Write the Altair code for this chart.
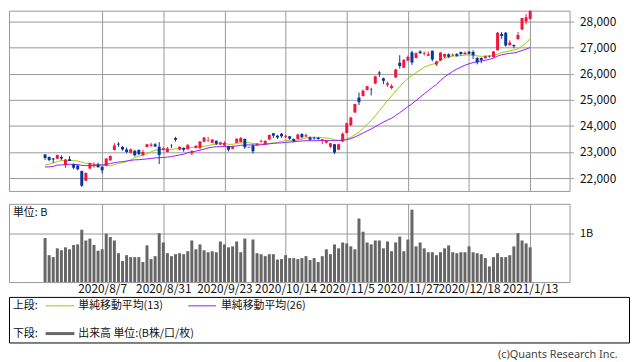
import altair as alt
import pandas as pd
import numpy as np

# ---------------- data ----------------
dates = (
    ["2020/7/%d" % d for d in [16, 17, 20, 21, 22, 27, 28, 29, 30, 31]]
    + ["2020/8/%d" % d for d in [3, 4, 5, 6, 7, 11, 12, 13, 14, 17, 18, 19, 20, 21, 24, 25, 26, 27, 28, 31]]
    + ["2020/9/%d" % d for d in [1, 2, 3, 4, 7, 8, 9, 10, 11, 14, 15, 16, 17, 18, 23, 24, 25, 28, 29, 30]]
    + ["2020/10/%d" % d for d in [1, 2, 5, 6, 7, 8, 9, 12, 13, 14, 15, 16, 19, 20, 21, 22, 23, 26, 27, 28, 29, 30]]
    + ["2020/11/%d" % d for d in [2, 4, 5, 6, 9, 10, 11, 12, 13, 16, 17, 18, 19, 20, 24, 25, 26, 27, 30]]
    + ["2020/12/%d" % d for d in [1, 2, 3, 4, 7, 8, 9, 10, 11, 14, 15, 16, 17, 18, 21, 22, 23, 24, 25, 28, 29, 30]]
    + ["2021/1/%d" % d for d in [4, 5, 6, 7, 8, 12, 13]]
)

opens = [22900, 22810, 22750, 22740, 22810, 22500, 22720, 22530, 22480, 22270,
         21900, 22370, 22450, 22520, 22430, 22470, 22680, 23080, 23320, 23190,
         23100, 22970, 23050, 23080, 22880, 23190, 23240, 23300, 23200, 23090,
         23000, 23260, 23540, 23100, 23150, 23110, 22950, 23160, 23150, 23390,
         23440, 23350, 23430, 23290, 23250, 23220, 23120, 23350, 23380, 23500,
         23185, 23250, 23260, 23400, 23300, 23480, 23720, 23620, 23700, 23580,
         23600, 23500, 23500, 23690, 23590, 23560, 23540, 23550, 23430, 23350,
         23200, 23300, 23090, 23400, 23730, 24030, 24510, 25090, 25150, 25380,
         25400, 25630, 26050, 25830, 25580, 25450, 25870, 26420, 26230, 26510,
         26820, 26600, 26850, 26780, 26690, 26880, 26350, 26510, 26650, 26750,
         26700, 26760, 26830, 26750, 26840, 26830, 26600, 26600, 26590, 26670,
         26640, 26900, 27520, 27575, 27100, 27100, 27330, 27700, 28000, 28100]
highs = [22920, 22830, 22770, 22900, 22875, 22730, 22840, 22560, 22500, 22290,
         22220, 22590, 22600, 22590, 22450, 22760, 22870, 23340, 23380, 23230,
         23170, 23130, 23070, 23100, 23090, 23310, 23350, 23340, 23380, 23180,
         23190, 23300, 23580, 23210, 23180, 23290, 23070, 23260, 23420, 23580,
         23580, 23490, 23440, 23400, 23410, 23240, 23240, 23520, 23580, 23520,
         23185, 23300, 23340, 23470, 23450, 23670, 23730, 23660, 23730, 23660,
         23620, 23520, 23700, 23720, 23700, 23600, 23590, 23570, 23500, 23450,
         23350, 23310, 23320, 23750, 24120, 24350, 24850, 25280, 25400, 25530,
         25460, 25920, 26100, 25850, 25700, 25600, 26190, 26710, 26560, 26700,
         26880, 26820, 26900, 26850, 26850, 26890, 26500, 26830, 26770, 26780,
         26780, 26790, 26850, 26850, 26880, 26900, 26640, 26620, 26700, 26700,
         26870, 27600, 27600, 27600, 27280, 27120, 27600, 28140, 28290, 28520]
lows = [22700, 22640, 22580, 22730, 22690, 22390, 22650, 22340, 22300, 21660,
        21890, 22340, 22400, 22400, 22180, 22460, 22660, 23060, 23200, 23050,
        22950, 22950, 22830, 22880, 22870, 23180, 23200, 23190, 22540, 23050,
        22990, 23150, 23400, 23060, 23010, 23090, 22880, 23140, 23100, 23380,
        23390, 23340, 23270, 23270, 23230, 23020, 23100, 23340, 23370, 23120,
        23185, 22940, 23250, 23360, 23280, 23470, 23540, 23500, 23540, 23540,
        23470, 23380, 23490, 23530, 23570, 23440, 23470, 23460, 23300, 23320,
        23150, 22920, 23080, 23380, 23720, 24000, 24500, 24800, 25120, 25360,
        25170, 25600, 25880, 25600, 25500, 25400, 25840, 26200, 26220, 26480,
        26340, 26590, 26750, 26700, 26680, 26480, 26300, 26500, 26600, 26600,
        26680, 26650, 26700, 26740, 26740, 26560, 26360, 26400, 26580, 26620,
        26620, 26890, 27340, 27040, 27070, 26980, 27300, 27670, 27890, 28090]
closes = [22770, 22696, 22717, 22884, 22751, 22715, 22657, 22397, 22339, 21710,
          22195, 22573, 22514, 22418, 22300, 22750, 22843, 23249, 23289, 23096,
          23000, 23110, 22880, 22920, 23000, 23296, 23290, 23208, 22882, 23139,
          23138, 23247, 23465, 23205, 23089, 23274, 23032, 23235, 23406, 23559,
          23454, 23475, 23319, 23360, 23346, 23087, 23204, 23511, 23539, 23185,
          23185, 23029, 23312, 23433, 23422, 23647, 23619, 23558, 23601, 23626,
          23507, 23410, 23671, 23567, 23639, 23474, 23516, 23494, 23485, 23418,
          23331, 22977, 23295, 23695, 24105, 24325, 24839, 24905, 25349, 25520,
          25385, 25906, 26014, 25728, 25634, 25527, 26165, 26296, 26537, 26644,
          26433, 26787, 26800, 26809, 26751, 26547, 26467, 26817, 26756, 26652,
          26732, 26687, 26757, 26806, 26763, 26714, 26436, 26524, 26668, 26656,
          26854, 27568, 27444, 27080, 27200, 27055, 27490, 28139, 28164, 28456]
# closes before the first candle (needed for the moving averages)
prior_closes = [22472, 22305, 21530, 22582, 22455, 22355, 22478, 22437, 22549, 22534,
                22259, 22512, 21995, 22288, 22121, 22145, 22306, 22714, 22614, 22438,
                22529, 22291, 22784, 22587, 22945]
volumes = [0.90, 0.55, 0.51, 0.69, 0.65, 0.71, 0.67, 0.76, 0.77, 1.07,
           0.85, 0.89, 0.76, 0.64, 0.67, 0.99, 0.92, 0.85, 0.59, 0.43,
           0.55, 0.51, 0.51, 0.51, 0.41, 0.75, 0.47, 0.53, 1.00, 0.81,
           0.59, 0.53, 0.57, 0.59, 0.57, 0.63, 0.85, 0.67, 0.77, 0.65,
           0.61, 0.63, 0.61, 0.83, 0.77, 0.71, 0.73, 0.83, 0.61, 0.89,
           0.00, 0.87, 0.59, 0.57, 0.53, 0.57, 0.57, 0.46, 0.47, 0.55,
           0.49, 0.49, 0.47, 0.49, 0.53, 0.45, 0.49, 0.41, 0.53, 0.67,
           0.57, 0.77, 0.69, 0.81, 0.79, 0.73, 0.67, 1.30, 1.03, 0.81,
           0.77, 0.85, 0.85, 0.69, 0.83, 0.63, 0.81, 0.93, 0.63, 0.87,
           1.48, 0.73, 0.81, 0.69, 0.61, 0.61, 0.55, 0.61, 0.69, 0.75,
           0.61, 0.59, 0.61, 0.61, 0.73, 0.61, 0.59, 0.57, 0.49, 0.32,
           0.51, 0.59, 0.51, 0.51, 0.55, 0.73, 1.00, 0.85, 0.79, 0.71]

tick_idx = [14, 29, 44, 59, 74, 89, 104, 119]
tick_labels = ["2020/8/7", "2020/8/31", "2020/9/23", "2020/10/14",
               "2020/11/5", "2020/11/27", "2020/12/18", "2021/1/13"]
price_ticks = [22000, 23000, 24000, 25000, 26000, 27000, 28000]
ma_names = ["単純移動平均(13)", "単純移動平均(26)"]

# ---------------- styles ----------------
RED = "#f5143f"
BLUE = "#08359a"
GREEN = "#99cc00"
PURPLE = "#9a1aff"
GRID = "#999999"
FONT = "Noto Sans CJK JP"

n = len(closes)
df = pd.DataFrame({"i": list(range(n)), "date": dates, "open": opens, "high": highs,
                   "low": lows, "close": closes, "vol": volumes})
df["dir"] = np.where(df["close"] > df["open"], "up", "down")
allc = pd.Series(prior_closes + closes, dtype=float)
df["ma13"] = allc.rolling(13).mean().iloc[len(prior_closes):].values
df["ma26"] = allc.rolling(26).mean().iloc[len(prior_closes):].values
ma_long = pd.concat([
    pd.DataFrame({"i": df["i"], "value": df["ma13"], "series": ma_names[0]}),
    pd.DataFrame({"i": df["i"], "value": df["ma26"], "series": ma_names[1]}),
])

xscale = alt.Scale(domain=[-7.637, 127.45], nice=False, zero=False)
yscale = alt.Scale(domain=[21507, 28418], nice=False, zero=False)
label_expr = "[" + ",".join("'%s'" % t for t in tick_labels) + "][round((datum.value-14)/15)]"

x_axis = alt.Axis(values=tick_idx, labels=False, ticks=False, domain=False,
                  grid=True, gridColor=GRID, gridWidth=1)
y_axis = alt.Axis(orient="right", values=price_ticks,
                  labelExpr="floor(datum.value/1000) + ',000'", grid=True,
                  gridColor=GRID, tickColor=GRID, tickSize=4, domain=False,
                  labelFontSize=12, labelPadding=6, labelColor="#111", labelFont=FONT)
color = alt.Color("dir:N", scale=alt.Scale(domain=["up", "down"], range=[RED, BLUE]), legend=None)

base = alt.Chart(df)
ma_lines = alt.Chart(ma_long).mark_line(strokeWidth=1, clip=True).encode(
    x=alt.X("i:Q", scale=xscale, axis=x_axis, title=None),
    y=alt.Y("value:Q", scale=yscale, axis=y_axis, title=None),
    stroke=alt.Stroke("series:N", scale=alt.Scale(domain=ma_names, range=[GREEN, PURPLE]), legend=None))
wicks = base.mark_rule(strokeWidth=1, clip=True).encode(
    x=alt.X("i:Q", scale=xscale, axis=x_axis, title=None),
    y=alt.Y("low:Q", scale=yscale, axis=y_axis, title=None), y2="high:Q", color=color)
bodies = base.mark_bar(width=3, clip=True).encode(
    x=alt.X("i:Q", scale=xscale, axis=x_axis, title=None),
    y=alt.Y("open:Q", scale=yscale, axis=y_axis, title=None), y2="close:Q", color=color)
doji = base.transform_filter("datum.open == datum.close").mark_tick(
    orient="horizontal", size=3, thickness=1, clip=True).encode(
    x=alt.X("i:Q", scale=xscale, axis=x_axis, title=None),
    y=alt.Y("close:Q", scale=yscale, axis=y_axis, title=None), color=color)

price = alt.layer(ma_lines, wicks, bodies, doji).properties(
    width=566, height=182, view=alt.ViewBackground(stroke=GRID, strokeWidth=1))

vol_bars = alt.Chart(df).mark_bar(width=3, color="#666666").encode(
    x=alt.X("i:Q", scale=xscale, title=None,
            axis=alt.Axis(values=tick_idx, labelExpr=label_expr, ticks=False, domain=False,
                          grid=True, gridColor=GRID, labelFontSize=12, labelPadding=2,
                          labelOverlap=False, labelBound=False, labelFlush=False,
                          labelColor="#111", labelFont=FONT)),
    y=alt.Y("vol:Q", scale=alt.Scale(domain=[0, 1.6], nice=False), title=None,
            axis=alt.Axis(orient="right", values=[1], labelExpr="'1B'", grid=True,
                          gridColor=GRID, tickColor=GRID, tickSize=4, domain=False,
                          labelFontSize=11, labelPadding=6, labelColor="#111", labelFont=FONT)))
unit_text = alt.Chart(pd.DataFrame({"t": ["単位: B"]})).mark_text(
    align="left", baseline="middle", fontSize=11, font=FONT, color="#111").encode(
    x=alt.value(4), y=alt.value(9), text="t:N")
volume = alt.layer(vol_bars, unit_text).properties(
    width=566, height=79, view=alt.ViewBackground(stroke=GRID, strokeWidth=1))

# ---------------- legend box ----------------
def txt(label, x, y):
    return alt.Chart(pd.DataFrame({"t": [label]})).mark_text(
        align="left", baseline="middle", fontSize=11, font=FONT, color="#111").encode(
        x=alt.value(x), y=alt.value(y), text="t:N")

def seg(x1, x2, y, col, w):
    return alt.Chart(pd.DataFrame({"k": [0]})).mark_rule(color=col, strokeWidth=w).encode(
        x=alt.value(x1), x2=alt.value(x2), y=alt.value(y))

legend = alt.layer(
    txt("上段:", 4, 9), seg(37, 66, 9, GREEN, 1), txt(ma_names[0], 70, 9),
    seg(181, 209, 9, PURPLE, 1), txt(ma_names[1], 214, 9),
    txt("下段:", 4, 37), seg(37, 66, 37, "#666666", 3), txt("出来高 単位:(B株/口/枚)", 70, 37),
).properties(width=626, height=46, view=alt.ViewBackground(stroke="#000000", strokeWidth=1))

upper = alt.vconcat(price, volume, spacing=11)
chart = alt.vconcat(upper, legend, spacing=0).properties(
    padding=0,
    title=alt.TitleParams("(c)Quants Research Inc.", orient="bottom", anchor="end",
                          fontSize=11, font="Noto Sans", fontWeight="normal",
                          color="#444", offset=6, dx=-12),
).configure(background="white").configure_view(strokeWidth=1)

chart.save("out.html", embed_options={"renderer": "svg", "actions": False})
